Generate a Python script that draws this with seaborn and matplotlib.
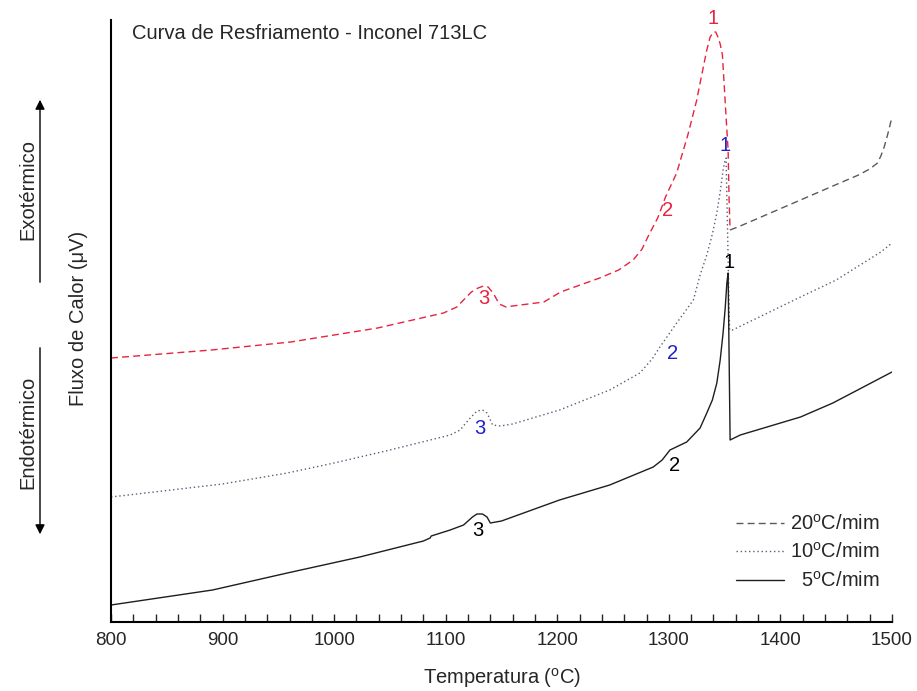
import matplotlib
matplotlib.use("Agg")
import matplotlib.pyplot as plt
import seaborn as sns
import pandas as pd
from matplotlib.lines import Line2D

# ---------------- data (temperature in °C, heat flux in arbitrary µV units) ----------------
t20_a = [800, 890, 961, 1039, 1098, 1110, 1116, 1123, 1129, 1134, 1138, 1141, 1143, 1148, 1154, 1160,
         1188, 1203, 1238, 1255, 1268, 1276, 1282, 1290, 1297, 1307, 1317, 1325, 1328, 1334, 1337,
         1340, 1342, 1344, 1346, 1348, 1350.4, 1352, 1353.1, 1354, 1354.9]
f20_a = [26.4, 27.2, 28.0, 29.4, 30.9, 31.5, 32.2, 33.0, 33.4, 33.6, 33.5, 33.1, 32.8, 31.8, 31.5, 31.6,
         32.0, 33.0, 34.4, 35.2, 36.2, 37.3, 38.7, 40.4, 42.5, 44.9, 48.7, 52.2, 53.9, 57.2, 58.5,
         59.0, 59.0, 58.5, 57.8, 56.7, 52.2, 49.2, 47.2, 42.2, 39.2]
t20_b = [1354.9, 1364, 1418, 1447, 1470, 1480, 1487, 1490, 1493, 1496, 1500]
f20_b = [39.2, 39.6, 42.2, 43.6, 44.7, 45.3, 45.9, 46.6, 47.5, 48.7, 50.5]

t10 = [800, 900, 958, 1000, 1050, 1104, 1113, 1118, 1122, 1128, 1133, 1137, 1140, 1142, 1149, 1160, 1202,
       1247, 1274, 1285, 1292, 1307, 1322, 1328, 1334, 1339, 1343, 1346, 1348.6, 1350, 1351.3, 1354.4,
       1357, 1418, 1450, 1480, 1490, 1500]
f10 = [12.5, 13.8, 14.9, 15.9, 17.2, 18.7, 19.2, 19.9, 20.4, 21.1, 21.2, 20.9, 20.2, 19.7, 19.6, 19.8, 21.2,
       23.2, 24.9, 26.3, 27.5, 29.9, 32.2, 34.7, 36.7, 38.8, 40.9, 43.0, 45.2, 46.0, 46.4, 29.2,
       29.2, 32.5, 34.2, 36.3, 37.0, 37.9]

t5 = [800, 891, 958, 1023, 1080, 1086, 1087, 1104, 1116, 1121, 1124, 1128, 1133, 1137, 1140, 1150,
      1202, 1247, 1286, 1294, 1301, 1316, 1328, 1334, 1339, 1343, 1346, 1348.6, 1350.5, 1352, 1353.1,
      1354.9, 1364, 1418, 1447, 1500]
f5 = [1.7, 3.2, 4.9, 6.5, 8.1, 8.4, 8.6, 9.2, 9.7, 10.2, 10.5, 10.8, 10.8, 10.5, 9.9, 10.1,
      12.2, 13.7, 15.5, 16.2, 17.2, 18.0, 19.4, 20.9, 22.2, 23.9, 26.2, 28.9, 31.4, 33.9, 34.9,
      18.2, 18.7, 20.5, 21.9, 25.0]

peak_labels = ["1", "2", "3"]
peaks20_t = [1339.6, 1299, 1134]
peaks20_f = [60.4, 41.2, 32.4]
peaks10_t = [1350.4, 1303, 1131]
peaks10_f = [47.7, 26.9, 19.4]
peaks5_t = [1354, 1305.5, 1129]
peaks5_f = [36.0, 15.7, 9.2]

legend_labels = ["20$^{\\rm o}$C/mim", "10$^{\\rm o}$C/mim", "  5$^{\\rm o}$C/mim"]
xticks = [800, 900, 1000, 1100, 1200, 1300, 1400, 1500]

# ---------------- style ----------------
sns.set_style("ticks")
plt.rcParams["font.family"] = ["Liberation Sans", "DejaVu Sans"]
plt.rcParams["mathtext.fontset"] = "custom"
plt.rcParams["mathtext.rm"] = "Liberation Sans"
plt.rcParams["mathtext.it"] = "Liberation Sans:italic"

RED = "#e8233f"
BLUE = "#2020c8"
GREY = "#5a5a5a"
DOT = "#5c5c78"
FS = 14.5

fig = plt.figure(figsize=(9.17, 6.91), dpi=100)
ax = fig.add_axes([111 / 917, 1 - 622 / 691, 781 / 917, 602 / 691])

def draw(t, f, color, ls, lw=1.0):
    df = pd.DataFrame({"T": t, "F": f})
    sns.lineplot(data=df, x="T", y="F", ax=ax, color=color, linestyle=ls,
                 linewidth=lw, estimator=None, sort=False, legend=False)

draw(t20_a, f20_a, RED, (0, (5, 3)))
draw(t20_b, f20_b, GREY, (0, (5, 3)))
draw(t10, f10, DOT, (0, (1, 2)))
draw(t5, f5, "#1e1e1e", "-")

for lab, x, y in zip(peak_labels, peaks20_t, peaks20_f):
    ax.text(x, y, lab, color=RED, fontsize=FS, ha="center", va="center", clip_on=False)
for lab, x, y in zip(peak_labels, peaks10_t, peaks10_f):
    ax.text(x, y, lab, color=BLUE, fontsize=FS, ha="center", va="center", clip_on=False)
for lab, x, y in zip(peak_labels, peaks5_t, peaks5_f):
    ax.text(x, y, lab, color="black", fontsize=FS, ha="center", va="center", clip_on=False)

ax.set_xlim(800, 1500)
ax.set_ylim(0, 60.2)
ax.set_xticks(xticks)
ax.set_xticks(range(800, 1501, 20), minor=True)
ax.set_yticks([])
ax.tick_params(axis="x", which="both", direction="in", length=6, width=1, labelsize=13.5, pad=7)
for s in ["top", "right"]:
    ax.spines[s].set_visible(False)
for s in ["left", "bottom"]:
    ax.spines[s].set_linewidth(1.5)
    ax.spines[s].set_color("black")

ax.set_xlabel("Temperatura ($^{\\rm o}$C)", fontsize=FS)
ax.xaxis.set_label_coords(0.5, -0.073)
ax.set_ylabel("Fluxo de Calor (μV)", fontsize=FS)
ax.yaxis.set_label_coords((88 - 111) / 781, 0.505)

ax.text(0.027, 0.978, "Curva de Resfriamento - Inconel 713LC", transform=ax.transAxes,
        fontsize=FS, ha="left", va="center")

handles = [Line2D([], [], color=GREY, ls=(0, (5, 3)), lw=1),
           Line2D([], [], color=DOT, ls=(0, (1, 2)), lw=1),
           Line2D([], [], color="#1e1e1e", ls="-", lw=1)]
ax.legend(handles, legend_labels, loc="lower right", bbox_to_anchor=(1.008, 0.022),
          frameon=False, fontsize=FS, handlelength=2.4, handletextpad=0.3,
          labelspacing=0.42)

# Exo / Endo annotations on the left
fig.text(28 / 917, 1 - 190 / 691, "Exotérmico", rotation=90, ha="center", va="center", fontsize=FS)
fig.text(28 / 917, 1 - 432 / 691, "Endotérmico", rotation=90, ha="center", va="center", fontsize=FS)
ax.annotate("", xy=(40 / 917, 1 - 97 / 691), xytext=(40 / 917, 1 - 285 / 691),
            xycoords="figure fraction", textcoords="figure fraction",
            arrowprops=dict(arrowstyle="-|>", color="black", lw=1, mutation_scale=14))
ax.annotate("", xy=(40 / 917, 1 - 537 / 691), xytext=(40 / 917, 1 - 345 / 691),
            xycoords="figure fraction", textcoords="figure fraction",
            arrowprops=dict(arrowstyle="-|>", color="black", lw=1, mutation_scale=14))

fig.savefig("out.png", dpi=100)
